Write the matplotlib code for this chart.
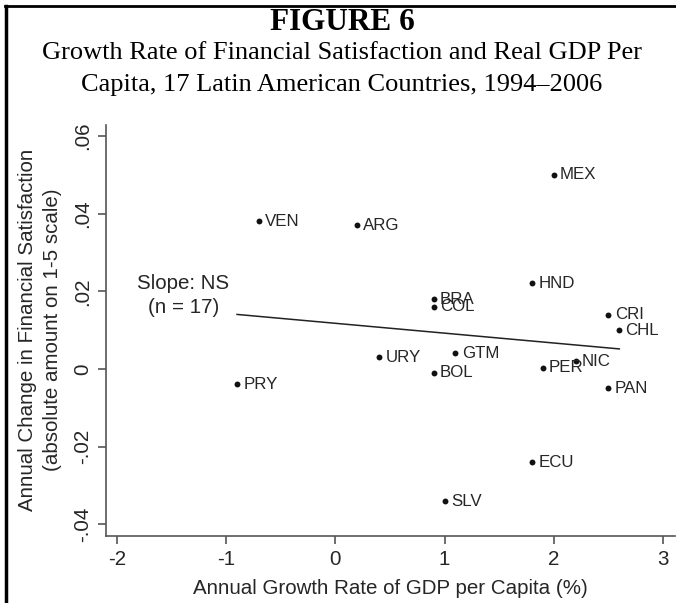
import numpy as np
import matplotlib
matplotlib.use("Agg")
import matplotlib.pyplot as plt
from matplotlib.lines import Line2D

# ---- data ----
countries = ["VEN", "PRY", "ARG", "MEX", "HND", "BRA", "COL", "CRI", "CHL",
             "URY", "GTM", "BOL", "PER", "NIC", "PAN", "ECU", "SLV"]
gdp_growth = [-0.7, -0.9, 0.2, 2.0, 1.8, 0.9, 0.9, 2.5, 2.6,
              0.4, 1.1, 0.9, 1.9, 2.2, 2.5, 1.8, 1.0]
fin_sat_change = [0.038, -0.004, 0.037, 0.050, 0.022, 0.018, 0.016, 0.014, 0.010,
                  0.003, 0.004, -0.001, 0.0003, 0.002, -0.005, -0.024, -0.034]
x_ticks = [-2, -1, 0, 1, 2, 3]
y_ticks = [-0.04, -0.02, 0, 0.02, 0.04, 0.06]
y_tick_labels = ["-.04", "-.02", "0", ".02", ".04", ".06"]

W, H = 676, 603
fig = plt.figure(figsize=(W / 100, H / 100), dpi=100)
fig.patch.set_facecolor("white")

text_col = "#262626"
axis_col = "#555555"
sans = ["Liberation Sans", "DejaVu Sans"]
serif = ["Liberation Serif", "DejaVu Serif"]
fs_axis = 14.8
fs_lab = 12.2

# plot region
left, right, top, bottom = 106, 675, 125, 536
ax = fig.add_axes([left / W, 1 - bottom / H, (right - left) / W, (bottom - top) / H])
ax.set_xlim(-2.10, 3.11)
ax.set_ylim(-0.0430, 0.0628)
for s in ["top", "right"]:
    ax.spines[s].set_visible(False)
for s in ["left", "bottom"]:
    ax.spines[s].set_color(axis_col)
    ax.spines[s].set_linewidth(1.2)
ax.set_facecolor("none")

ax.set_xticks(x_ticks)
ax.set_xticklabels([str(t) for t in x_ticks], fontsize=fs_axis, family=sans, color=text_col)
ax.set_yticks(y_ticks)
ax.set_yticklabels(y_tick_labels, fontsize=fs_axis, family=sans, color=text_col,
                   rotation=90, va="center")
ax.tick_params(axis="both", direction="out", length=6, width=1.2, color=axis_col, pad=4)

# fitted line (OLS)
xa = np.array(gdp_growth)
ya = np.array(fin_sat_change)
slope, intercept = np.polyfit(xa, ya, 1)
xf = np.array([xa.min(), xa.max()])
ax.plot(xf, intercept + slope * xf, color="#222222", lw=1.1)

# points and labels
ax.scatter(gdp_growth, fin_sat_change, s=18, color="#111111", zorder=3, linewidths=0)
for c, xv, yv in zip(countries, gdp_growth, fin_sat_change):
    ax.annotate(c, (xv, yv), xytext=(4.5, 0), textcoords="offset points",
                ha="left", va="center", fontsize=fs_lab, family=sans, color=text_col)

ax.text(-1.39, 0.0189, "Slope: NS\n(n = 17)", ha="center", va="center",
        fontsize=fs_axis, family=sans, color=text_col, linespacing=1.3)

# axis titles
fig.text(390 / W, 1 - 588 / H, "Annual Growth Rate of GDP per Capita (%)",
         ha="center", va="center", fontsize=fs_axis, family=sans, color=text_col)
fig.text(28 / W, 1 - 330 / H, "Annual Change in Financial Satisfaction",
         ha="center", va="center", rotation=90, fontsize=fs_axis, family=sans, color=text_col)
fig.text(53 / W, 1 - 330 / H, "(absolute amount on 1-5 scale)",
         ha="center", va="center", rotation=90, fontsize=fs_axis, family=sans, color=text_col)

# titles
fig.text(342 / W, 1 - 22 / H, "FIGURE 6", ha="center", va="center",
         fontsize=22.5, fontweight="bold", family=serif, color="black")
fig.text(342 / W, 1 - 53 / H, "Growth Rate of Financial Satisfaction and Real GDP Per",
         ha="center", va="center", fontsize=19, family=serif, color="black")
fig.text(342 / W, 1 - 85 / H, "Capita, 17 Latin American Countries, 1994\u20132006",
         ha="center", va="center", fontsize=19, family=serif, color="black")

# frame border (left and top)
fig.add_artist(Line2D([5.5 / W, 5.5 / W], [0, 1 - 6 / H], transform=fig.transFigure,
                      color="black", lw=2.5))
fig.add_artist(Line2D([4.5 / W, 1], [1 - 6 / H, 1 - 6 / H], transform=fig.transFigure,
                      color="black", lw=2.0))

fig.savefig("out.png", dpi=100)
